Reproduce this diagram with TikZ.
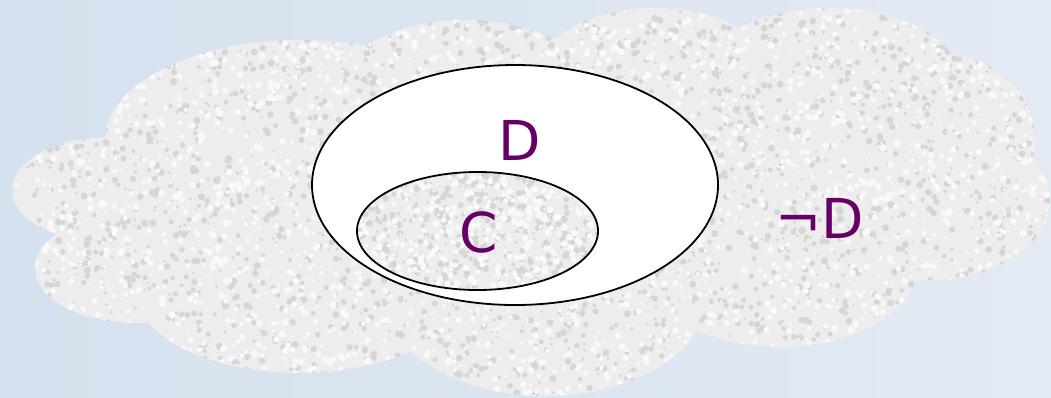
\documentclass[tikz,border=0pt]{standalone}
\usepackage{fontspec}
\setmainfont{DejaVu Sans}
\usetikzlibrary{shapes.geometric}
\definecolor{bgL}{RGB}{212,225,238}
\definecolor{bgR}{RGB}{227,234,244}
\definecolor{cloudbase}{RGB}{237,237,237}
\definecolor{speckdark}{RGB}{214,214,214}
\definecolor{specklight}{RGB}{249,249,249}
\definecolor{labelpurple}{RGB}{102,0,102}
\newcommand\mkspeckles[6]{%
  \foreach \k in {1,...,#5}{%
    \pgfmathsetmacro\sx{#1+rnd*#2}%
    \pgfmathsetmacro\sy{#3+rnd*#4}%
    \pgfmathsetmacro\sr{1.2+rnd*2.4}%
    \fill[#6] (\sx,\sy) circle[radius=\sr];
  }%
}
\def\cloudpath{%
  (300,140) ellipse [x radius=195, y radius=100]
  (465,100) ellipse [x radius=135, y radius=80]
  (655,85) ellipse [x radius=125, y radius=77]
  (830,80) ellipse [x radius=130, y radius=72]
  (935,140) ellipse [x radius=100, y radius=88]
  (930,200) ellipse [x radius=120, y radius=80]
  (780,260) ellipse [x radius=140, y radius=87]
  (545,290) ellipse [x radius=165, y radius=106]
  (300,290) ellipse [x radius=165, y radius=83]
  (135,268) ellipse [x radius=100, y radius=55]
  (110,190) ellipse [x radius=98, y radius=53]
  (540,200) ellipse [x radius=420, y radius=135]
}
\begin{document}
\begin{tikzpicture}[x=1pt,y=-1pt,
  lbl/.style={text=labelpurple, font=\fontsize{55}{60}\selectfont, inner sep=0pt},
  setellipse/.style={ellipse, draw=black, line width=1.8pt, inner sep=0pt}]
\useasboundingbox (0,0) rectangle (1051,397);
\shade[left color=bgL, right color=bgR] (0,0) rectangle (1051,397);
% cloud (universe)
\fill[cloudbase] \cloudpath;
\begin{scope}
  \clip \cloudpath;
  \pgfmathsetseed{4242}
  \mkspeckles{0}{1051}{0}{397}{3000}{speckdark}
  \mkspeckles{0}{1051}{0}{397}{3000}{specklight}
\end{scope}
% set D
\node[setellipse, fill=white, minimum width=406pt, minimum height=240pt] (Dset) at (515,185) {};
% set C
\begin{scope}
  \clip (477.5,231) ellipse [x radius=120.5, y radius=59];
  \fill[cloudbase] (355,170) rectangle (600,292);
  \mkspeckles{355}{245}{170}{122}{480}{speckdark}
  \mkspeckles{355}{245}{170}{122}{480}{specklight}
\end{scope}
\node[setellipse, minimum width=241pt, minimum height=118pt] (Cset) at (477.5,231) {};
% labels
\node[lbl] (Dlabel) at (520,140) {D};
\node[lbl] (Clabel) at (479,232) {C};
\node[lbl] (notDlabel) at (820,218) {¬D};
\end{tikzpicture}
\end{document}
